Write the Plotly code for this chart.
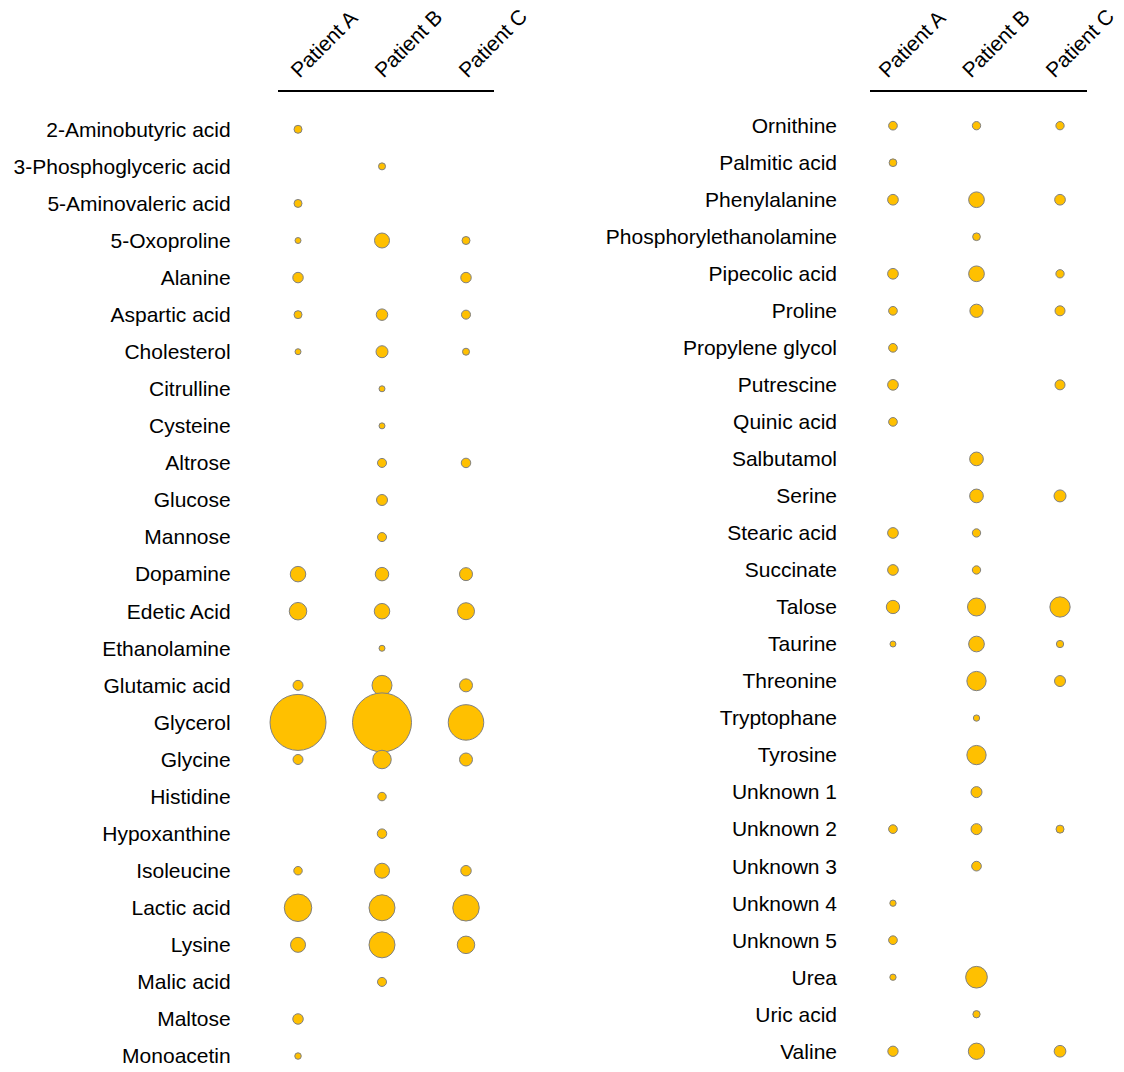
import plotly.graph_objects as go

patients = ["Patient A", "Patient B", "Patient C"]

left_compounds = [
    "2-Aminobutyric acid", "3-Phosphoglyceric acid", "5-Aminovaleric acid", "5-Oxoproline",
    "Alanine", "Aspartic acid", "Cholesterol", "Citrulline", "Cysteine", "Altrose",
    "Glucose", "Mannose", "Dopamine", "Edetic Acid", "Ethanolamine", "Glutamic acid",
    "Glycerol", "Glycine", "Histidine", "Hypoxanthine", "Isoleucine", "Lactic acid",
    "Lysine", "Malic acid", "Maltose", "Monoacetin",
]
left_a = [1.0, None, 1.0, 0.56, 1.72, 1.0, 0.56, None, None, None,
          None, None, 3.75, 4.79, None, 1.56, 49.0, 1.56, None, None,
          1.13, 11.82, 3.52, None, 1.72, 0.66]
left_b = [None, 0.77, None, 3.52, None, 2.07, 2.25, 0.56, 0.56, 1.27,
          1.89, 1.27, 2.85, 3.75, 0.56, 6.25, 54.39, 5.35, 1.13, 1.41,
          3.52, 10.56, 10.56, 1.27, None, None]
left_c = [None, None, None, 1.0, 1.72, 1.27, 0.77, None, None, 1.41,
          None, None, 2.64, 4.52, None, 2.64, 19.69, 2.64, None, None,
          1.72, 10.97, 4.79, None, None, None]

right_compounds = [
    "Ornithine", "Palmitic acid", "Phenylalanine", "Phosphorylethanolamine",
    "Pipecolic acid", "Proline", "Propylene glycol", "Putrescine", "Quinic acid",
    "Salbutamol", "Serine", "Stearic acid", "Succinate", "Talose", "Taurine",
    "Threonine", "Tryptophane", "Tyrosine", "Unknown 1", "Unknown 2", "Unknown 3",
    "Unknown 4", "Unknown 5", "Urea", "Uric acid", "Valine",
]
right_a = [1.18, 0.93, 1.79, None, 1.79, 1.18, 1.18, 1.79, 1.18, None,
           None, 1.79, 1.79, 2.76, 0.56, None, None, None, None, 1.18,
           None, 0.62, 1.18, 0.62, None, 1.66]
right_b = [1.08, None, 3.85, 0.93, 3.85, 2.76, None, None, None, 2.93,
           2.93, 1.08, 1.08, 5.06, 3.85, 5.82, 0.62, 5.82, 1.89, 1.89,
           1.47, None, None, 7.36, 0.83, 4.15]
right_c = [1.08, None, 1.79, None, 1.08, 1.56, None, 1.56, None, None,
           2.25, None, None, 6.44, 0.83, 1.89, None, None, None, 1.0,
           None, None, None, None, None, 2.14]

FILL = "#FFC000"
EDGE = "#808080"
FONT = "Arial, Liberation Sans, sans-serif"

fig = go.Figure()


def add_panel(names, series, xa, ya):
    xs, ys, ss, hov = [], [], [], []
    for pi, vals in enumerate(series):
        for ri, v in enumerate(vals):
            if v is None:
                continue
            xs.append(pi)
            ys.append(ri)
            ss.append(v)
            hov.append(f"{names[ri]}<br>{patients[pi]}: {v}")
    fig.add_trace(go.Scatter(
        x=xs, y=ys, mode="markers", xaxis=xa, yaxis=ya,
        text=hov, hoverinfo="text", cliponaxis=False, showlegend=False,
        marker=dict(size=ss, sizemode="area", sizeref=1 / 32, color=FILL,
                    opacity=1, line=dict(color=EDGE, width=1)),
    ))


add_panel(left_compounds, [left_a, left_b, left_c], "x", "y")
add_panel(right_compounds, [right_a, right_b, right_c], "x2", "y2")

# page body has an 8px margin on the top/left: size the figure to reach the window edges
OFF = 8
W, H = 1124 - OFF, 1072 - OFF
line_y = 92.3 - OFF
ytop = 1 - line_y / H

axis_common = dict(showgrid=False, zeroline=False, ticks="", fixedrange=True,
                   automargin=False)
head_common = dict(side="top", showline=True, linecolor="#000000", linewidth=2,
                   tickmode="array", tickvals=[0, 1, 2], ticktext=patients,
                   tickangle=-45, tickfont=dict(size=21, family=FONT, color="#000000"),
                   ticklabelstandoff=0, ticklabeloverflow="allow")

fig.update_layout(
    template="none",
    width=W, height=H,
    margin=dict(l=0, r=0, t=0, b=0, pad=0),
    paper_bgcolor="white", plot_bgcolor="white",
    font=dict(family=FONT, color="#000000"),
    hovermode="closest",
    xaxis=dict(domain=[(277.7 - OFF) / W, (494.3 - OFF) / W], range=[-0.242, 2.337],
               anchor="y", ticklabelshift=-6, **head_common, **axis_common),
    yaxis=dict(domain=[0, ytop], range=[25.43, -0.998], anchor="x",
               showline=False, tickmode="array", tickvals=list(range(len(left_compounds))),
               ticktext=left_compounds, tickfont=dict(size=21, family=FONT, color="#000000"),
               ticklabelstandoff=46, **axis_common),
    xaxis2=dict(domain=[(870 - OFF) / W, (1087 - OFF) / W], range=[-0.275, 2.323],
                anchor="y2", ticklabelshift=-13, **head_common, **axis_common),
    yaxis2=dict(domain=[0, ytop], range=[25.56, -0.902], anchor="x2",
                showline=False, tickmode="array", tickvals=list(range(len(right_compounds))),
                ticktext=right_compounds, tickfont=dict(size=21, family=FONT, color="#000000"),
                ticklabelstandoff=32, **axis_common),
)

fig.write_html("out.html")
